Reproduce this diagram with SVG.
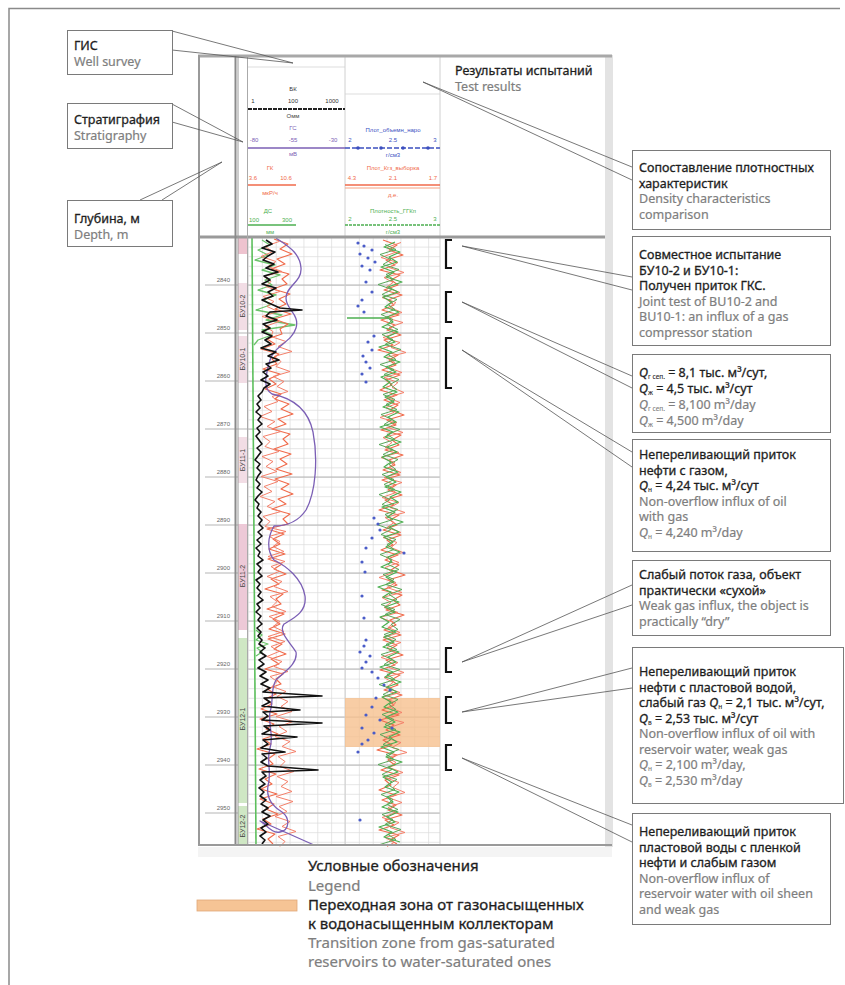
<svg xmlns="http://www.w3.org/2000/svg" width="845" height="985" viewBox="0 0 845 985">
<style>
.box{fill:#fff;stroke:#7a7a7a;stroke-width:1}
.t{font-family:"Noto Sans","Open Sans",sans-serif;font-size:12.5px;fill:#1e1e1e;stroke:#1e1e1e;stroke-width:0.3}
.g{font-family:"Noto Sans","Open Sans",sans-serif;font-size:12.5px;fill:#7e7e7e;stroke:#7e7e7e;stroke-width:0.2}
.lg{font-size:15px}
.sb{font-size:6.5px;stroke-width:0.1}
.lead{fill:none;stroke:#555;stroke-width:0.8}
.tiny{font-family:"Liberation Sans",sans-serif;font-size:6px;text-anchor:middle}
.dep{font-family:"Liberation Sans",sans-serif;font-size:6px;fill:#666;text-anchor:end}
.strat{font-family:"Liberation Sans",sans-serif;font-size:7px;fill:#444;text-anchor:middle}
.crv{fill:none;stroke-linejoin:round}
.br{fill:none;stroke:#111;stroke-width:2.2}
</style>
<defs>
<pattern id="grid" x="248" y="237" width="13.857" height="9.6" patternUnits="userSpaceOnUse">
<path d="M0,0.4H13.857M0.4,0V9.6" stroke="#dcdcdc" stroke-width="0.8" fill="none"/>
</pattern>
<polyline id="gk1" class="crv" points="274,239 288,244 280,249 292,254 277,259 285,264 271,269 289,274 282,279 287,284 273,289 290,294 279,299 286,304 275,309 291,314 274,319 288,324 280,329 282,334 267,339 275,344 261,349 279,354 272,359 277,364 263,369 280,374 269,379 276,384 265,389 281,394 275,399 289,404 281,409 293,414 278,419 286,424 272,429 290,434 283,439 288,444 274,449 291,454 280,459 287,464 276,469 292,474 275,479 289,484 281,489 293,494 278,499 286,504 272,509 290,514 283,519 288,524 267,529 284,534 273,539 280,544 269,549 285,554 268,559 282,564 274,569 286,574 271,579 279,584 265,589 283,594 276,599 281,604 267,609 284,614 273,619 280,624 269,629 285,634 268,639 282,644 274,649 286,654 271,659 279,664 265,669 283,674 276,679 281,684 267,689 276,694 265,699 272,704 261,709 277,714 260,719 274,724 266,729 278,734 263,739 271,744 257,749 275,754 268,759 273,764 259,769 276,774 265,779 272,784 261,789 277,794 260,799 274,804 266,809 278,814 263,819 271,824 257,829 275,834 268,839 273,844"/>
<polyline id="or2" class="crv" points="383,240 397,245 389,250 403,255 386,260 395,265 380,270 400,275 391,280 398,285 384,290 402,295 388,300 394,305 382,310 399,315 381,320 395,325 387,330 401,335 384,340 393,345 378,350 398,355 389,360 396,365 382,370 400,375 386,380 392,385 380,390 397,395 384,400 398,405 390,410 404,415 387,420 396,425 381,430 401,435 392,440 399,445 385,450 403,455 389,460 395,465 383,470 400,475 382,480 396,485 388,490 402,495 385,500 394,505 379,510 399,515 390,520 397,525 383,530 401,535 387,540 393,545 381,550 398,555 385,560 399,565 391,570 405,575 388,580 397,585 382,590 402,595 393,600 400,605 386,610 404,615 390,620 396,625 384,630 401,635 383,640 397,645 389,650 403,655 386,660 395,665 380,670 400,675 391,680 398,685 384,690 402,695 388,700 394,705 382,710 399,715 380,720 394,725 386,730 400,735 383,740 392,745 377,750 397,755 388,760 395,765 381,770 399,775 385,780 391,785 379,790 396,795 382,800 396,805 388,810 402,815 385,820 394,825 379,830 399,835 390,840 397,844"/>
<polyline id="gr2" class="crv" points="395,242 384,247 400,252 389,257 397,262 381,267 394,272 386,277 402,282 388,287 398,292 383,297 392,302 385,307 399,312 387,317 393,322 382,327 398,332 387,337 395,342 379,347 392,352 384,357 400,362 386,367 396,372 381,377 390,382 383,387 397,392 385,397 394,402 383,407 399,412 388,417 396,422 380,427 393,432 385,437 401,442 387,447 397,452 382,457 391,462 384,467 398,472 386,477 396,482 385,487 401,492 390,497 398,502 382,507 395,512 387,517 403,522 389,527 399,532 384,537 393,542 386,547 400,552 388,557 392,562 381,567 397,572 386,577 394,582 378,587 391,592 383,597 399,602 385,607 395,612 380,617 389,622 382,627 396,632 384,637 394,642 383,647 399,652 388,657 396,662 380,667 393,672 385,677 401,682 387,687 397,692 382,697 391,702 384,707 398,712 386,717 395,722 384,727 400,732 389,737 397,742 381,747 394,752 386,757 402,762 388,767 398,772 383,777 392,782 385,787 399,792 387,797 393,802 382,807 398,812 387,817 395,822 379,827 392,832 384,837 400,842"/>
</defs>
<rect width="845" height="985" fill="#fff"/>
<!-- outer frame -->
<path d="M9,985V8.5H840" fill="none" stroke="#8a8a8a" stroke-width="1.5"/>

<g id="well-log">
<rect x="198" y="55" width="414" height="792" fill="#fff"/>
<rect x="605" y="55" width="8" height="792" fill="#e3e3e3"/>
<!-- header -->
<line x1="248" y1="67" x2="345" y2="67" stroke="#ddd" stroke-width="1"/>
<line x1="345" y1="94" x2="440" y2="94" stroke="#ddd" stroke-width="1"/>
<line x1="345" y1="56" x2="345" y2="237" stroke="#d0d0d0" stroke-width="1"/>
<line x1="440" y1="56" x2="440" y2="237" stroke="#d0d0d0" stroke-width="1"/>
<text class="tiny" x="293" y="91" fill="#333" font-size="7">БК</text>
<text class="tiny" x="253" y="103" fill="#333">1</text>
<text class="tiny" x="293" y="103" fill="#333">100</text>
<text class="tiny" x="332" y="103" fill="#333">1000</text>
<line x1="248" y1="109" x2="345" y2="109" stroke="#222" stroke-width="2" stroke-dasharray="4 1"/>
<text class="tiny" x="293" y="118" fill="#444">Омм</text>
<text class="tiny" x="293" y="130" fill="#7b5fb5" font-size="7">ГС</text>
<text class="tiny" x="254" y="142" fill="#7b5fb5">-80</text>
<text class="tiny" x="293" y="142" fill="#7b5fb5">-55</text>
<text class="tiny" x="333" y="142" fill="#7b5fb5">-30</text>
<line x1="248" y1="148" x2="345" y2="148" stroke="#7b5fb5" stroke-width="1.6"/>
<text class="tiny" x="293" y="156" fill="#7b5fb5">мВ</text>
<text class="tiny" x="393" y="132" fill="#3b4fbf">Плот_объемн_наро</text>
<text class="tiny" x="350" y="142" fill="#3b4fbf">2</text>
<text class="tiny" x="393" y="142" fill="#3b4fbf">2.5</text>
<text class="tiny" x="435" y="142" fill="#3b4fbf">3</text>
<line x1="345" y1="148" x2="440" y2="148" stroke="#3b4fbf" stroke-width="1.4" stroke-dasharray="5 2"/>
<circle cx="358" cy="148" r="1.8" fill="#3b4fbf"/><circle cx="381" cy="148" r="1.8" fill="#3b4fbf"/><circle cx="403" cy="148" r="1.8" fill="#3b4fbf"/><circle cx="428" cy="148" r="1.8" fill="#3b4fbf"/>
<text class="tiny" x="393" y="157" fill="#3b4fbf">г/см3</text>
<text class="tiny" x="270" y="170" fill="#f06a4a" font-size="7">ГК</text>
<text class="tiny" x="253" y="180" fill="#f06a4a">3.6</text>
<text class="tiny" x="286" y="180" fill="#f06a4a">10.6</text>
<line x1="248" y1="185" x2="296" y2="185" stroke="#f06a4a" stroke-width="1.6"/>
<text class="tiny" x="270" y="195" fill="#f06a4a">мкР/ч</text>
<text class="tiny" x="393" y="170" fill="#f06a4a">Плот_Кгз_выборка</text>
<text class="tiny" x="352" y="180" fill="#f06a4a">4.3</text>
<text class="tiny" x="393" y="180" fill="#f06a4a">2.1</text>
<text class="tiny" x="433" y="180" fill="#f06a4a">1.7</text>
<line x1="345" y1="185" x2="440" y2="185" stroke="#f06a4a" stroke-width="1.4"/>
<line x1="345" y1="188" x2="440" y2="188" stroke="#f6a080" stroke-width="1"/>
<text class="tiny" x="393" y="197" fill="#f06a4a">д.е.</text>
<text class="tiny" x="268" y="213" fill="#4caf50" font-size="7">ДС</text>
<text class="tiny" x="254" y="222" fill="#4caf50">100</text>
<text class="tiny" x="287" y="222" fill="#4caf50">300</text>
<line x1="248" y1="225" x2="296" y2="225" stroke="#4caf50" stroke-width="1.6"/>
<text class="tiny" x="270" y="234" fill="#4caf50">мм</text>
<text class="tiny" x="393" y="213" fill="#4caf50">Плотность_ГГКп</text>
<text class="tiny" x="350" y="221" fill="#4caf50">2</text>
<text class="tiny" x="393" y="221" fill="#4caf50">2.5</text>
<text class="tiny" x="435" y="221" fill="#4caf50">3</text>
<line x1="345" y1="225" x2="440" y2="225" stroke="#4caf50" stroke-width="1.4" stroke-dasharray="3 1"/>
<text class="tiny" x="393" y="234" fill="#4caf50">г/см3</text>

<!-- body grid -->
<rect x="248" y="237" width="192" height="608" fill="url(#grid)"/>
<g stroke="#b5b5b5" stroke-width="1">
<line x1="205" y1="285" x2="440" y2="285"/><line x1="205" y1="333" x2="440" y2="333"/><line x1="205" y1="381" x2="440" y2="381"/><line x1="205" y1="429" x2="440" y2="429"/><line x1="205" y1="477" x2="440" y2="477"/><line x1="205" y1="525" x2="440" y2="525"/><line x1="205" y1="573" x2="440" y2="573"/><line x1="205" y1="621" x2="440" y2="621"/><line x1="205" y1="669" x2="440" y2="669"/><line x1="205" y1="717" x2="440" y2="717"/><line x1="205" y1="765" x2="440" y2="765"/><line x1="205" y1="813" x2="440" y2="813"/>
</g>
<g class="dep">
<text x="230" y="282">2840</text><text x="230" y="330">2850</text><text x="230" y="378">2860</text><text x="230" y="426">2870</text><text x="230" y="474">2880</text><text x="230" y="522">2890</text><text x="230" y="570">2900</text><text x="230" y="618">2910</text><text x="230" y="666">2920</text><text x="230" y="714">2930</text><text x="230" y="762">2940</text><text x="230" y="810">2950</text>
</g>
<line x1="440" y1="237" x2="440" y2="845" stroke="#d0d0d0" stroke-width="1"/>
<line x1="345" y1="237" x2="345" y2="845" stroke="#cfcfcf" stroke-width="1"/>

<!-- stratigraphy -->
<g id="stratigraphy">
<rect x="238" y="238" width="9" height="16" fill="#eec3cf"/>
<rect x="238" y="283" width="9" height="47" fill="#f2dde5"/>
<rect x="238" y="336" width="9" height="47" fill="#f2dde5"/>
<rect x="238" y="437" width="9" height="46" fill="#f2dde5"/>
<rect x="238" y="524" width="9" height="106" fill="#edc9d7"/>
<rect x="238" y="638" width="9" height="165" fill="#cfe7c4"/>
<rect x="238" y="806" width="9" height="39" fill="#cfe7c4"/>
<text class="strat" transform="translate(245,306) rotate(-90)">БУ10-2</text>
<text class="strat" transform="translate(245,359) rotate(-90)">БУ10-1</text>
<text class="strat" transform="translate(245,460) rotate(-90)">БУ11-1</text>
<text class="strat" transform="translate(245,576) rotate(-90)">БУ11-2</text>
<text class="strat" transform="translate(245,719) rotate(-90)">БУ12-1</text>
<text class="strat" transform="translate(245,826) rotate(-90)">БУ12-2</text>
</g>

<!-- transition zone -->
<rect x="345" y="698" width="95" height="49" fill="#f6c08e" opacity="0.8"/>

<!-- track 1 curves -->
<path class="crv" d="M252,237 L256,845" stroke="#5cbf5c" stroke-width="1.6"/>
<polyline class="crv" stroke="#6cc36c" stroke-width="1.3" points="262,240 270,245 258,250 268,255 255,260 275,265 262,270 280,275 265,280 272,285 258,290 276,295 264,300 270,305 256,310 282,315 266,320 295,325 262,330 272,335 258,340 254,345"/>
<polyline class="crv" stroke="#6cc36c" stroke-width="1.3" points="256,630 262,635 256,640 268,644 257,648 262,652 256,656"/>
<use href="#gk1" stroke="#f06a4a" stroke-width="1.1"/>
<use href="#gk1" stroke="#f4806a" stroke-width="1" transform="translate(553,2.5) scale(-1,1)"/>
<path class="crv" stroke="#7b5fb5" stroke-width="1.3" d="M276,238 C286,245 300,252 301,268 C302,282 286,286 286,298 C286,310 300,314 296,328 C292,342 274,346 270,360 C266,374 262,388 272,394 C292,398 308,408 313,432 C318,458 316,492 306,510 C298,522 286,526 274,526 C268,536 266,550 274,560 C286,566 302,578 305,596 C307,612 294,618 284,624 C278,632 290,642 296,652 C298,664 284,672 276,680 C270,690 274,700 270,712 C268,724 274,736 270,748 C266,760 272,772 268,786 C266,798 272,806 282,812 C290,818 290,830 280,832 C272,834 266,824 260,821 L314,845"/>
<polyline class="crv" stroke="#111" stroke-width="1.6" points="266,240 272,244 262,248 275,252 268,256 263,260 274,264 266,268 278,272 264,276 270,280 262,284 276,288 268,292 273,296 262,300 271,304 280,308 302,310 270,312 266,316 277,320 263,324 270,328 262,332 272,336 265,340 271,344 261,348 276,352 268,356 279,360 266,364 271,368 263,372 268,376 261,380 270,384 264,388 262,392 258,396 261,400 257,404 260,408 256,412 261,416 258,420 262,424 257,428 260,432 256,436 259,440 262,444 257,448 261,452 258,456 255,460 260,464 257,468 261,472 258,476 256,480 260,484 257,488 262,492 258,496 255,500 259,504 257,508 261,512 258,516 262,520 259,524 263,528 258,532 262,536 257,540 261,544 256,548 260,552 258,556 263,560 257,564 261,568 258,572 262,576 256,580 260,584 257,588 261,592 258,596 263,600 257,604 260,608 256,612 261,616 258,620 262,624 257,628 261,632 258,636 262,640 259,644 265,648 260,652 266,656 259,660 264,664 258,668 266,672 260,676 268,680 261,684 270,688 263,692 322,696 264,698 270,702 262,706 300,710 263,712 268,716 262,720 322,723 264,726 270,730 262,734 297,737 263,740 268,744 261,748 285,752 262,754 267,758 261,762 268,766 318,770 262,772 266,776 260,780 265,784 259,788 264,792 260,796 266,800 261,804 268,808 262,812 270,816 263,820 268,824 261,828 266,832 260,836 265,840 262,844"/>

<!-- track 2 curves -->
<use href="#or2" stroke="#f06a4a" stroke-width="1.1"/>
<use href="#or2" stroke="#f4806a" stroke-width="1" transform="translate(784,2.5) scale(-1,1)"/>
<use href="#gr2" stroke="#4caf50" stroke-width="1.2"/>
<use href="#gr2" stroke="#5aa85a" stroke-width="1" transform="translate(780,2.5) scale(-1,1)"/>
<line x1="347" y1="318" x2="388" y2="318" stroke="#4caf50" stroke-width="1.6"/>
<g fill="#4a5cc8">
<circle cx="358" cy="243" r="1.6"/><circle cx="364" cy="246" r="1.6"/><circle cx="372" cy="250" r="1.6"/><circle cx="360" cy="254" r="1.6"/><circle cx="368" cy="258" r="1.6"/><circle cx="375" cy="262" r="1.6"/><circle cx="362" cy="266" r="1.6"/><circle cx="370" cy="270" r="1.6"/><circle cx="366" cy="282" r="1.6"/><circle cx="372" cy="292" r="1.6"/><circle cx="362" cy="300" r="1.6"/><circle cx="358" cy="306" r="1.6"/><circle cx="364" cy="312" r="1.6"/><circle cx="374" cy="336" r="1.6"/><circle cx="368" cy="342" r="1.6"/><circle cx="372" cy="350" r="1.6"/><circle cx="363" cy="356" r="1.6"/><circle cx="366" cy="362" r="1.6"/><circle cx="370" cy="368" r="1.6"/><circle cx="362" cy="374" r="1.6"/><circle cx="366" cy="382" r="1.6"/><circle cx="374" cy="518" r="1.6"/><circle cx="378" cy="524" r="1.6"/><circle cx="380" cy="530" r="1.6"/><circle cx="372" cy="538" r="1.6"/><circle cx="366" cy="548" r="1.6"/><circle cx="404" cy="553" r="1.6"/><circle cx="362" cy="562" r="1.6"/><circle cx="365" cy="572" r="1.6"/><circle cx="362" cy="596" r="1.6"/><circle cx="364" cy="618" r="1.6"/><circle cx="366" cy="640" r="1.6"/><circle cx="364" cy="646" r="1.6"/><circle cx="360" cy="652" r="1.6"/><circle cx="370" cy="656" r="1.6"/><circle cx="366" cy="662" r="1.6"/><circle cx="362" cy="668" r="1.6"/><circle cx="372" cy="672" r="1.6"/><circle cx="378" cy="678" r="1.6"/><circle cx="384" cy="685" r="1.6"/><circle cx="390" cy="690" r="1.6"/><circle cx="376" cy="698" r="1.6"/><circle cx="372" cy="707" r="1.6"/><circle cx="366" cy="715" r="1.6"/><circle cx="380" cy="720" r="1.6"/><circle cx="362" cy="728" r="1.6"/><circle cx="374" cy="733" r="1.6"/><circle cx="392" cy="728" r="1.6"/><circle cx="368" cy="740" r="1.6"/><circle cx="362" cy="744" r="1.6"/><circle cx="358" cy="752" r="1.6"/><circle cx="360" cy="820" r="1.6"/>
</g>

<!-- test interval brackets -->
<path class="br" d="M452,240H446V268H452"/>
<path class="br" d="M452,292H446V322H452"/>
<path class="br" d="M452,338H446V388H452"/>
<path class="br" d="M452,648H446V672H452"/>
<path class="br" d="M452,697H446V723H452"/>
<path class="br" d="M452,745H446V770H452"/>

<!-- borders -->
<line x1="198" y1="237" x2="605" y2="237" stroke="#9a9a9a" stroke-width="3"/>
<line x1="198" y1="56" x2="612" y2="56" stroke="#a8a8a8" stroke-width="3"/>
<line x1="199" y1="55" x2="199" y2="846" stroke="#9a9a9a" stroke-width="2"/>
<line x1="235.5" y1="56" x2="235.5" y2="845" stroke="#8a8a8a" stroke-width="2"/>
<line x1="238" y1="56" x2="238" y2="845" stroke="#9a9a9a" stroke-width="1"/>
<line x1="247.5" y1="56" x2="247.5" y2="845" stroke="#aaa" stroke-width="1"/>
<line x1="198" y1="845" x2="612" y2="845" stroke="#9a9a9a" stroke-width="2"/>
<rect x="198" y="847" width="414" height="10" fill="#f4f4f4"/>
</g>

<!-- connectors -->
<g id="connectors" class="lead">
<polyline points="172,31 293,63 172,50"/>
<polyline points="172,104 243,142 172,122"/>
<polyline points="140,200 222,162 162,200"/>
<polyline points="632,167 423,82 632,180"/>
<polyline points="632,277 462,246 632,290"/>
<polyline points="632,376 462,302 632,388"/>
<polyline points="632,452 462,350 632,467"/>
<polyline points="632,585 462,662 632,605"/>
<polyline points="632,668 462,712 632,688"/>
<polyline points="632,825 462,758 632,842"/>
</g>

<!-- nodes -->
<g id="node-gis">
<rect class="box" x="67.5" y="30.5" width="105" height="44"/>
<text class="t" x="74" y="50">ГИС</text>
<text class="g" x="74" y="66">Well survey</text>
</g>
<g id="node-strat">
<rect class="box" x="67.5" y="103.5" width="105" height="45"/>
<text class="t" x="74" y="124">Стратиграфия</text>
<text class="g" x="74" y="140">Stratigraphy</text>
</g>
<g id="node-depth">
<rect class="box" x="67.5" y="200.5" width="105" height="46"/>
<text class="t" x="74" y="223">Глубина, м</text>
<text class="g" x="74" y="239">Depth, m</text>
</g>
<g id="node-test-results">
<text class="t" x="455" y="75">Результаты испытаний</text>
<text class="g" x="455" y="91">Test results</text>
</g>
<g id="node-density">
<rect class="box" x="632.5" y="150.5" width="198" height="79"/>
<text class="t" x="639" y="172">Сопоставление плотностных</text>
<text class="t" x="639" y="187.5">характеристик</text>
<text class="g" x="639" y="203">Density characteristics</text>
<text class="g" x="639" y="218.5">comparison</text>
</g>
<g id="node-joint-test">
<rect class="box" x="632.5" y="236.5" width="198" height="109"/>
<text class="t" x="639" y="259">Совместное испытание</text>
<text class="t" x="639" y="274.5">БУ10-2 и БУ10-1:</text>
<text class="t" x="639" y="290">Получен приток ГКС.</text>
<text class="g" x="639" y="305.5">Joint test of BU10-2 and</text>
<text class="g" x="639" y="321">BU10-1: an influx of a gas</text>
<text class="g" x="639" y="336.5">compressor station</text>
</g>
<g id="node-q-gas">
<rect class="box" x="632.5" y="354.5" width="198" height="78"/>
<text class="t" x="639" y="377"><tspan font-style="italic">Q</tspan><tspan class="sb" baseline-shift="-2">г сеп.</tspan> = 8,1 тыс. м³/сут,</text>
<text class="t" x="639" y="393"><tspan font-style="italic">Q</tspan><tspan class="sb" baseline-shift="-2">ж</tspan> = 4,5 тыс. м³/сут</text>
<text class="g" x="639" y="409"><tspan font-style="italic">Q</tspan><tspan class="sb" baseline-shift="-2">г сеп.</tspan> = 8,100 m³/day</text>
<text class="g" x="639" y="425"><tspan font-style="italic">Q</tspan><tspan class="sb" baseline-shift="-2">ж</tspan> = 4,500 m³/day</text>
</g>
<g id="node-oil-gas">
<rect class="box" x="632.5" y="439.5" width="198" height="112"/>
<text class="t" x="639" y="459">Непереливающий приток</text>
<text class="t" x="639" y="474.5">нефти с газом,</text>
<text class="t" x="639" y="490"><tspan font-style="italic">Q</tspan><tspan class="sb" baseline-shift="-2">н</tspan> = 4,24 тыс. м³/сут</text>
<text class="g" x="639" y="505.5">Non-overflow influx of oil</text>
<text class="g" x="639" y="521">with gas</text>
<text class="g" x="639" y="537"><tspan font-style="italic">Q</tspan><tspan class="sb" baseline-shift="-2">н</tspan> = 4,240 m³/day</text>
</g>
<g id="node-weak-gas">
<rect class="box" x="632.5" y="560.5" width="198" height="75"/>
<text class="t" x="639" y="579">Слабый поток газа, объект</text>
<text class="t" x="639" y="594.5">практически «сухой»</text>
<text class="g" x="639" y="610">Weak gas influx, the object is</text>
<text class="g" x="639" y="625.5">practically “dry”</text>
</g>
<g id="node-oil-water">
<rect class="box" x="632.5" y="647.5" width="211" height="156"/>
<text class="t" x="639" y="676">Непереливающий приток</text>
<text class="t" x="639" y="691.5">нефти с пластовой водой,</text>
<text class="t" x="639" y="707">слабый газ <tspan font-style="italic">Q</tspan><tspan class="sb" baseline-shift="-2">н</tspan> = 2,1 тыс. м³/сут,</text>
<text class="t" x="639" y="722.5"><tspan font-style="italic">Q</tspan><tspan class="sb" baseline-shift="-2">в</tspan> = 2,53 тыс. м³/сут</text>
<text class="g" x="639" y="738">Non-overflow influx of oil with</text>
<text class="g" x="639" y="753.5">reservoir water, weak gas</text>
<text class="g" x="639" y="769"><tspan font-style="italic">Q</tspan><tspan class="sb" baseline-shift="-2">н</tspan> = 2,100 m³/day,</text>
<text class="g" x="639" y="784.5"><tspan font-style="italic">Q</tspan><tspan class="sb" baseline-shift="-2">в</tspan> = 2,530 m³/day</text>
</g>
<g id="node-water-sheen">
<rect class="box" x="632.5" y="813.5" width="198" height="111"/>
<text class="t" x="639" y="836">Непереливающий приток</text>
<text class="t" x="639" y="851.5">пластовой воды с пленкой</text>
<text class="t" x="639" y="867">нефти и слабым газом</text>
<text class="g" x="639" y="882.5">Non-overflow influx of</text>
<text class="g" x="639" y="898">reservoir water with oil sheen</text>
<text class="g" x="639" y="913.5">and weak gas</text>
</g>
<g id="legend">
<rect x="197" y="900" width="100" height="11" fill="#f6c495" stroke="#e0a878" stroke-width="0.8"/>
<text class="t lg" x="308" y="871">Условные обозначения</text>
<text class="g lg" x="308" y="891">Legend</text>
<text class="t lg" x="308" y="910">Переходная зона от газонасыщенных</text>
<text class="t lg" x="308" y="929">к водонасыщенным коллекторам</text>
<text class="g lg" x="308" y="948">Transition zone from gas-saturated</text>
<text class="g lg" x="308" y="967">reservoirs to water-saturated ones</text>
</g>
</svg>
